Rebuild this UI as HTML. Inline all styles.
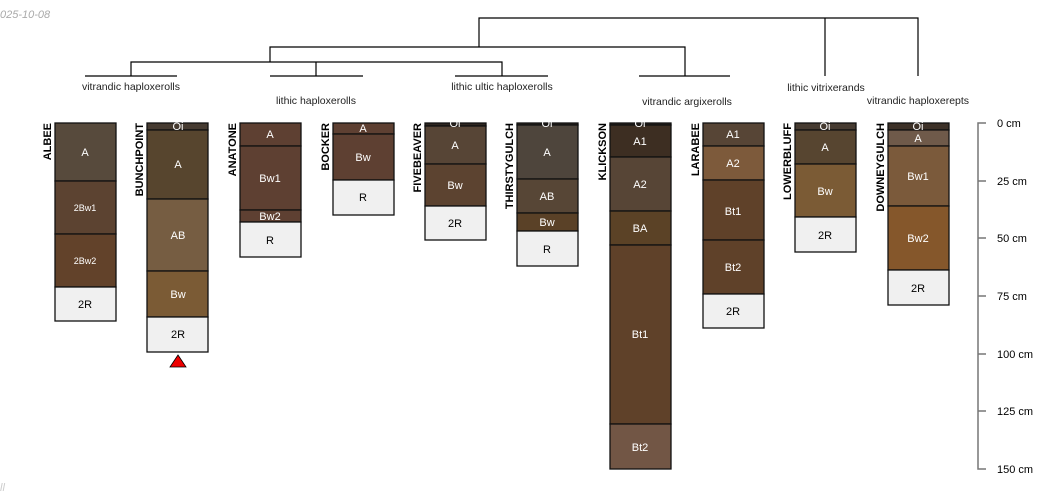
<!DOCTYPE html>
<html><head><meta charset="utf-8"><style>
html,body{margin:0;padding:0;background:#fff;width:1050px;height:500px;overflow:hidden}
svg{display:block;font-family:"Liberation Sans",sans-serif}
.h{stroke:#111;stroke-width:1.3}
.t{fill:#fff;font-size:11px;text-anchor:middle}
.n{font-size:11px;font-weight:bold;fill:#000;text-anchor:end}
.d{stroke:#000;stroke-width:1.2;fill:none}
.g{stroke:#777;stroke-width:1.5;fill:none}
.l{font-size:10.5px;fill:#222;text-anchor:middle}
</style></head><body>
<svg width="1050" height="500" viewBox="0 0 1050 500">
<text x="0" y="18" font-size="11" font-style="italic" fill="#aaa">025-10-08</text>
<text x="0" y="491" font-size="11" font-style="italic" fill="#ccc">ll</text>

<path class="d" d="M479 47V18H918V76M825 18V76M270 62V47H685V76M131 76V62H502V76M316 62V76"/>
<path class="d" d="M85 76H177M270 76H363M455 76H548M639 76H730"/>
<text class="l" x="131" y="90">vitrandic haploxerolls</text>
<text class="l" x="316" y="104">lithic haploxerolls</text>
<text class="l" x="502" y="90">lithic ultic haploxerolls</text>
<text class="l" x="687" y="105">vitrandic argixerolls</text>
<text class="l" x="826" y="91">lithic vitrixerands</text>
<text class="l" x="918" y="104">vitrandic haploxerepts</text>

<text class="n" transform="translate(51,123) rotate(-90)">ALBEE</text>
<rect class="h" x="55" y="123" width="61" height="58" fill="#574a3c"/>
<rect class="h" x="55" y="181" width="61" height="53" fill="#5c4331"/>
<rect class="h" x="55" y="234" width="61" height="53" fill="#62422a"/>
<rect class="h" x="55" y="287" width="61" height="34" fill="#f0f0f0" stroke="#444"/>
<text class="t" x="85" y="156">A</text>
<text class="t" x="85" y="211" style="font-size:9px">2Bw1</text>
<text class="t" x="85" y="264" style="font-size:9px">2Bw2</text>
<text class="t" x="85" y="308" style="fill:#000">2R</text>

<text class="n" transform="translate(143,123) rotate(-90)">BUNCHPOINT</text>
<rect class="h" x="147" y="123" width="61" height="7" fill="#463b31"/>
<rect class="h" x="147" y="130" width="61" height="69" fill="#57452e"/>
<rect class="h" x="147" y="199" width="61" height="72" fill="#765d42"/>
<rect class="h" x="147" y="271" width="61" height="46" fill="#7b5b35"/>
<rect class="h" x="147" y="317" width="61" height="35" fill="#f0f0f0" stroke="#444"/>
<text class="t" x="178" y="130">Oi</text>
<text class="t" x="178" y="168">A</text>
<text class="t" x="178" y="239">AB</text>
<text class="t" x="178" y="298">Bw</text>
<text class="t" x="178" y="338" style="fill:#000">2R</text>
<polygon points="178,355 170,367 186,367" fill="#e00" stroke="#000" stroke-width="0.8"/>

<text class="n" transform="translate(236,123) rotate(-90)">ANATONE</text>
<rect class="h" x="240" y="123" width="61" height="23" fill="#5e4032"/>
<rect class="h" x="240" y="146" width="61" height="64" fill="#5e4032"/>
<rect class="h" x="240" y="210" width="61" height="12" fill="#5e4032"/>
<rect class="h" x="240" y="222" width="61" height="35" fill="#f0f0f0" stroke="#444"/>
<text class="t" x="270" y="138">A</text>
<text class="t" x="270" y="182">Bw1</text>
<text class="t" x="270" y="220">Bw2</text>
<text class="t" x="270" y="244" style="fill:#000">R</text>

<text class="n" transform="translate(329,123) rotate(-90)">BOCKER</text>
<rect class="h" x="333" y="123" width="61" height="11" fill="#5e4032"/>
<rect class="h" x="333" y="134" width="61" height="46" fill="#5e4032"/>
<rect class="h" x="333" y="180" width="61" height="35" fill="#f0f0f0" stroke="#444"/>
<text class="t" x="363" y="132">A</text>
<text class="t" x="363" y="161">Bw</text>
<text class="t" x="363" y="201" style="fill:#000">R</text>

<text class="n" transform="translate(421,123) rotate(-90)">FIVEBEAVER</text>
<rect class="h" x="425" y="123" width="61" height="3" fill="#2e2620"/>
<rect class="h" x="425" y="126" width="61" height="38" fill="#574536"/>
<rect class="h" x="425" y="164" width="61" height="42" fill="#5c4330"/>
<rect class="h" x="425" y="206" width="61" height="34" fill="#f0f0f0" stroke="#444"/>
<text class="t" x="455" y="127">Oi</text>
<text class="t" x="455" y="149">A</text>
<text class="t" x="455" y="189">Bw</text>
<text class="t" x="455" y="227" style="fill:#000">2R</text>

<text class="n" transform="translate(513,123) rotate(-90)">THIRSTYGULCH</text>
<rect class="h" x="517" y="123" width="61" height="2" fill="#2e2620"/>
<rect class="h" x="517" y="125" width="61" height="54" fill="#4e453c"/>
<rect class="h" x="517" y="179" width="61" height="34" fill="#574636"/>
<rect class="h" x="517" y="213" width="61" height="18" fill="#5a4127"/>
<rect class="h" x="517" y="231" width="61" height="35" fill="#f0f0f0" stroke="#444"/>
<text class="t" x="547" y="127">Oi</text>
<text class="t" x="547" y="156">A</text>
<text class="t" x="547" y="200">AB</text>
<text class="t" x="547" y="226">Bw</text>
<text class="t" x="547" y="253" style="fill:#000">R</text>

<text class="n" transform="translate(606,123) rotate(-90)">KLICKSON</text>
<rect class="h" x="610" y="123" width="61" height="2" fill="#2e2620"/>
<rect class="h" x="610" y="125" width="61" height="32" fill="#3d2e22"/>
<rect class="h" x="610" y="157" width="61" height="54" fill="#574536"/>
<rect class="h" x="610" y="211" width="61" height="34" fill="#5b4226"/>
<rect class="h" x="610" y="245" width="61" height="179" fill="#5f4129"/>
<rect class="h" x="610" y="424" width="61" height="45" fill="#725645" stroke="#444"/>
<text class="t" x="640" y="127">Oi</text>
<text class="t" x="640" y="145">A1</text>
<text class="t" x="640" y="188">A2</text>
<text class="t" x="640" y="232">BA</text>
<text class="t" x="640" y="338">Bt1</text>
<text class="t" x="640" y="451">Bt2</text>

<text class="n" transform="translate(699,123) rotate(-90)">LARABEE</text>
<rect class="h" x="703" y="123" width="61" height="23" fill="#574536"/>
<rect class="h" x="703" y="146" width="61" height="34" fill="#7d5a3b"/>
<rect class="h" x="703" y="180" width="61" height="60" fill="#5f4129"/>
<rect class="h" x="703" y="240" width="61" height="54" fill="#5f4129"/>
<rect class="h" x="703" y="294" width="61" height="34" fill="#f0f0f0" stroke="#444"/>
<text class="t" x="733" y="138">A1</text>
<text class="t" x="733" y="167">A2</text>
<text class="t" x="733" y="215">Bt1</text>
<text class="t" x="733" y="271">Bt2</text>
<text class="t" x="733" y="315" style="fill:#000">2R</text>

<text class="n" transform="translate(791,123) rotate(-90)">LOWERBLUFF</text>
<rect class="h" x="795" y="123" width="61" height="7" fill="#463b31"/>
<rect class="h" x="795" y="130" width="61" height="34" fill="#574530"/>
<rect class="h" x="795" y="164" width="61" height="53" fill="#7b5b35"/>
<rect class="h" x="795" y="217" width="61" height="35" fill="#f0f0f0" stroke="#444"/>
<text class="t" x="825" y="130">Oi</text>
<text class="t" x="825" y="151">A</text>
<text class="t" x="825" y="195">Bw</text>
<text class="t" x="825" y="239" style="fill:#000">2R</text>

<text class="n" transform="translate(884,123) rotate(-90)">DOWNEYGULCH</text>
<rect class="h" x="888" y="123" width="61" height="7" fill="#3d3128"/>
<rect class="h" x="888" y="130" width="61" height="16" fill="#6f5a4a"/>
<rect class="h" x="888" y="146" width="61" height="60" fill="#7b5a3b"/>
<rect class="h" x="888" y="206" width="61" height="64" fill="#85572b"/>
<rect class="h" x="888" y="270" width="61" height="35" fill="#f0f0f0" stroke="#444"/>
<text class="t" x="918" y="130">Oi</text>
<text class="t" x="918" y="142">A</text>
<text class="t" x="918" y="180">Bw1</text>
<text class="t" x="918" y="242">Bw2</text>
<text class="t" x="918" y="292" style="fill:#000">2R</text>

<path class="g" d="M986 123H978V469H986M978 181H986M978 238H986M978 296H986M978 354H986M978 411H986"/>
<g font-size="11" fill="#000">
<text x="997" y="127">0 cm</text>
<text x="997" y="185">25 cm</text>
<text x="997" y="242">50 cm</text>
<text x="997" y="300">75 cm</text>
<text x="997" y="358">100 cm</text>
<text x="997" y="415">125 cm</text>
<text x="997" y="473">150 cm</text>
</g>
</svg>
</body></html>
